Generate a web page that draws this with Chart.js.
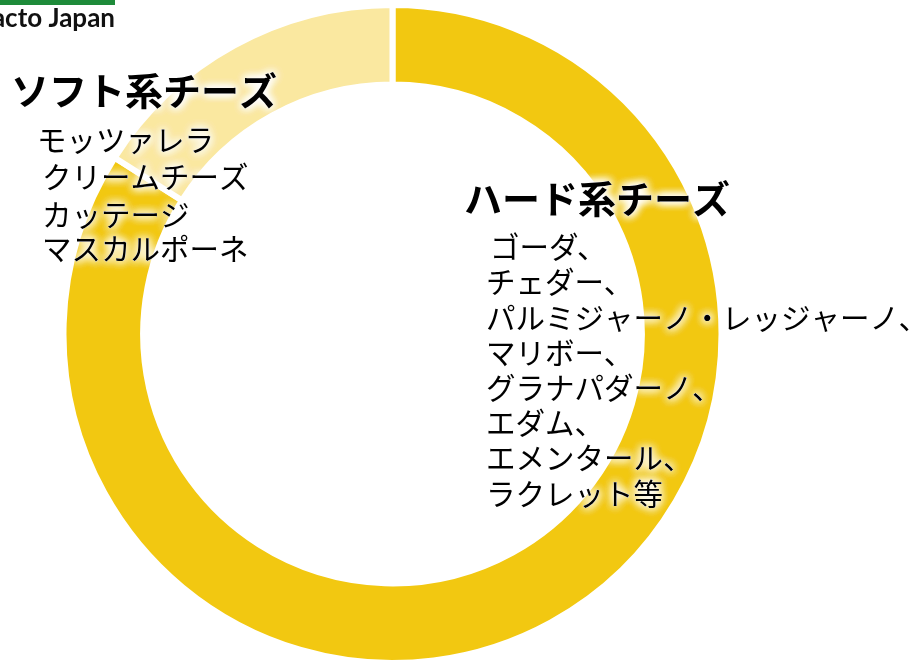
<!DOCTYPE html>
<html lang="ja">
<head>
<meta charset="utf-8">
<title>チーズの種類</title>
<script src="https://cdn.jsdelivr.net/npm/chart.js@4.4.1/dist/chart.umd.min.js"></script>
<style>
  html, body { margin: 0; padding: 0; background: #fff; overflow: hidden; }
  #wrap { position: relative; width: 911px; height: 660px; overflow: hidden; }
</style>
</head>
<body>
<div id="wrap"><canvas id="cheeseChart" width="911" height="668"></canvas></div>
<script>
// Categories and shares (percent)
const categories = ['ハード系チーズ', 'ソフト系チーズ'];
const shares = [84, 16];
const sliceColors = ['#F2C811', '#FAE8A0'];

// Example cheeses for each category
const hardCheeses = [
    'ゴーダ、',
    'チェダー、',
    'パルミジャーノ・レッジャーノ、',
    'マリボー、',
    'グラナパダーノ、',
    'エダム、',
    'エメンタール、',
    'ラクレット等'
];
const softCheeses = [
    'モッツァレラ',
    'クリームチーズ',
    'カッテージ',
    'マスカルポーネ'
];

const logoText = 'acto Japan';

// Draws text with a soft white halo behind it
function glowText(ctx, text, x, y, font) {
    ctx.save();
    ctx.font = font;
    ctx.textAlign = 'left';
    ctx.textBaseline = 'middle';
    ctx.shadowColor = 'rgba(255,255,255,1)';
    ctx.shadowBlur = 10;
    ctx.fillStyle = '#fff';
    for (let i = 0; i < 4; i++) ctx.fillText(text, x, y);
    ctx.shadowBlur = 0;
    ctx.fillStyle = '#000';
    ctx.fillText(text, x, y);
    ctx.restore();
}

const labelPlugin = {
    id: 'cheeseLabels',
    afterDraw(chart) {
        const ctx = chart.ctx;
        const titleFont = 'bold 38px "Noto Sans CJK JP", "Noto Sans", sans-serif';
        const itemFont = '29.5px "Noto Sans CJK JP", "Noto Sans", sans-serif';

        // soft cheese block, upper left
        glowText(ctx, categories[1], 11, 91, titleFont);
        const softY = [140, 177, 215, 249];
        const softX = [37, 42, 42, 42];
        softCheeses.forEach((t, i) => glowText(ctx, t, softX[i], softY[i], itemFont));

        // hard cheese block, right
        glowText(ctx, categories[0], 464, 199, titleFont);
        const hardTop = 247;
        const hardStep = 35.2;
        hardCheeses.forEach((t, i) => glowText(ctx, t, i === 0 ? 490 : 486, hardTop + i * hardStep, itemFont));

        // logo corner
        ctx.save();
        ctx.fillStyle = '#1E8B3A';
        ctx.fillRect(0, 0, 115, 5);
        ctx.font = 'bold 26px Lato, "DejaVu Sans", sans-serif';
        ctx.fillStyle = '#111';
        ctx.textAlign = 'right';
        ctx.textBaseline = 'alphabetic';
        ctx.fillText(logoText, 115, 27);
        ctx.restore();
    }
};

new Chart(document.getElementById('cheeseChart'), {
    type: 'doughnut',
    data: {
        labels: categories,
        datasets: [{
            data: shares,
            backgroundColor: sliceColors,
            borderColor: '#fff',
            borderWidth: 6
        }]
    },
    options: {
        responsive: false,
        animation: false,
        cutout: '75.8%',
        rotation: 0,
        layout: { padding: { top: 2, right: 126, bottom: 2, left: 0 } },
        plugins: {
            legend: { display: false },
            tooltip: { enabled: false }
        }
    },
    plugins: [labelPlugin]
});
</script>
</body>
</html>
